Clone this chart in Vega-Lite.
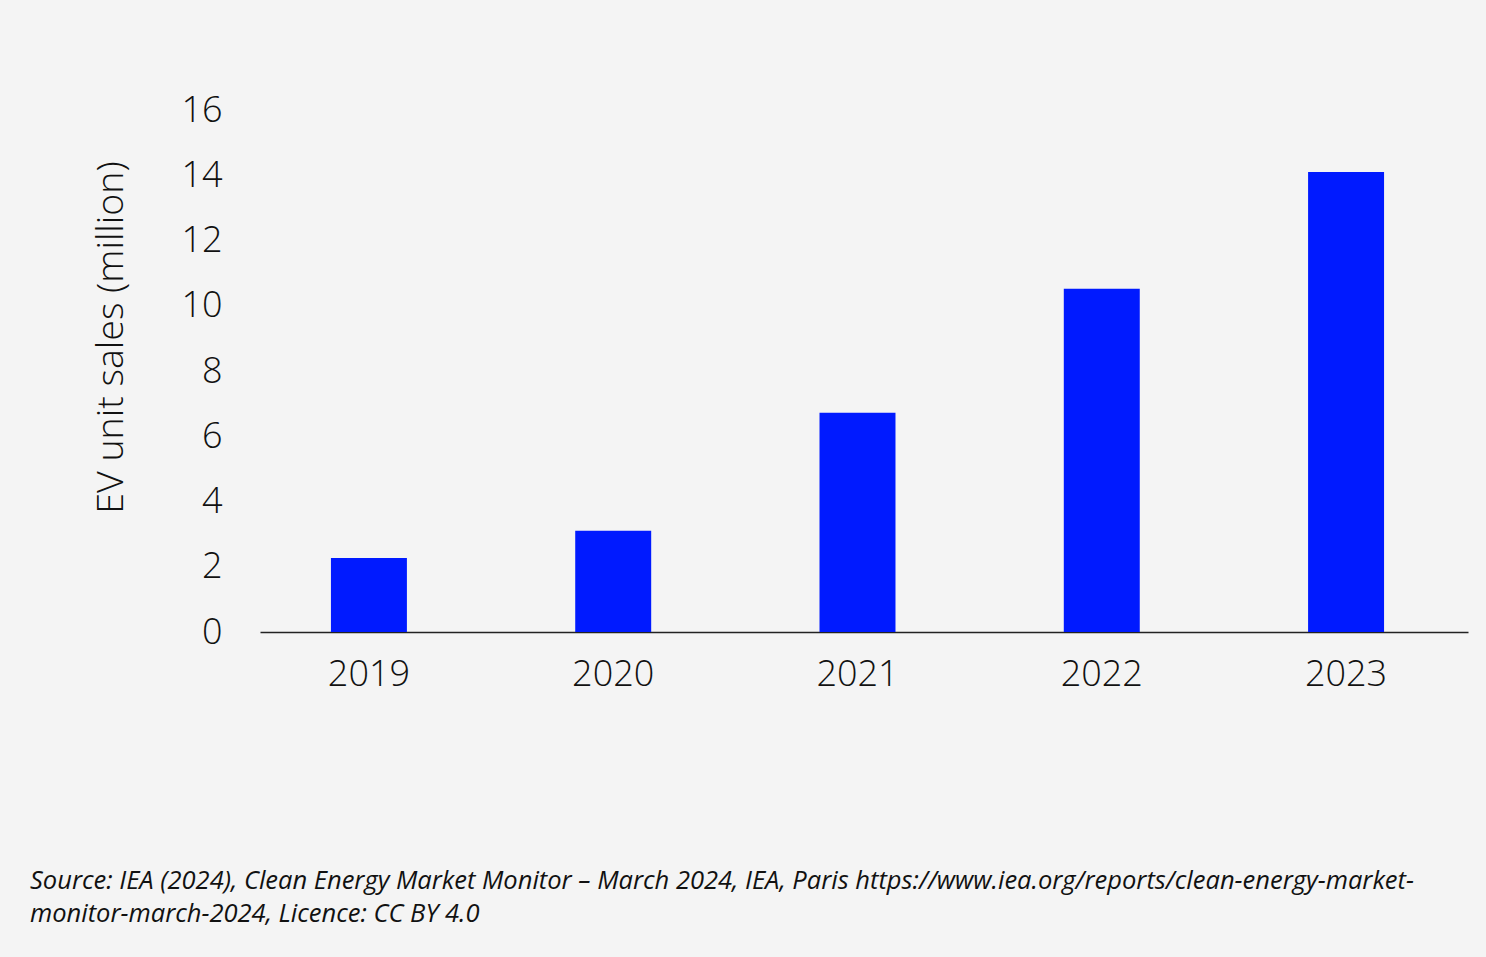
{
  "$schema": "https://vega.github.io/schema/vega-lite/v6.json",
  "width": 1208,
  "height": 522,
  "autosize": {"type": "none"},
  "padding": {"left": 260, "top": 110, "right": 18, "bottom": 325},
  "background": "#f4f4f4",
  "config": {
    "view": {"stroke": null},
    "font": "Open Sans"
  },
  "title": {
    "text": ["Source: IEA (2024), Clean Energy Market Monitor – March 2024, IEA, Paris https://www.iea.org/reports/clean-energy-market-", "monitor-march-2024, Licence: CC BY 4.0"],
    "orient": "bottom",
    "anchor": "start",
    "frame": "group",
    "dx": -230,
    "offset": 177,
    "font": "Open Sans",
    "fontStyle": "italic",
    "fontWeight": "normal",
    "fontSize": 25.5,
    "lineHeight": 33,
    "color": "#111111"
  },
  "data": {
    "values": [
      {"year": "2019", "sales": 2.27},
      {"year": "2020", "sales": 3.1},
      {"year": "2021", "sales": 6.72},
      {"year": "2022", "sales": 10.52},
      {"year": "2023", "sales": 14.1}
    ]
  },
  "mark": {"type": "bar", "color": "#001aff"},
  "encoding": {
    "x": {
      "field": "year",
      "type": "nominal",
      "scale": {"paddingInner": 0.689, "paddingOuter": 0.317, "align": 0.458},
      "axis": {
        "title": null,
        "labelAngle": 0,
        "labelFontSize": 36,
        "labelFontWeight": 300,
        "labelColor": "#111111",
        "labelPadding": 25,
        "ticks": false,
        "domainColor": "#222222",
        "domainWidth": 1.5
      }
    },
    "y": {
      "field": "sales",
      "type": "quantitative",
      "scale": {"domain": [0, 16], "nice": false},
      "axis": {
        "values": [0, 2, 4, 6, 8, 10, 12, 14, 16],
        "title": "EV unit sales (million)",
        "titleFontSize": 37.5,
        "titleFontWeight": 300,
        "titleColor": "#111111",
        "titleAngle": -90,
        "titleAlign": "center",
        "titleBaseline": "middle",
        "titleX": -149,
        "titleY": 227,
        "labelFontSize": 36,
        "labelFontWeight": 300,
        "labelColor": "#111111",
        "labelPadding": 38,
        "ticks": false,
        "domain": false,
        "grid": false
      }
    }
  }
}
